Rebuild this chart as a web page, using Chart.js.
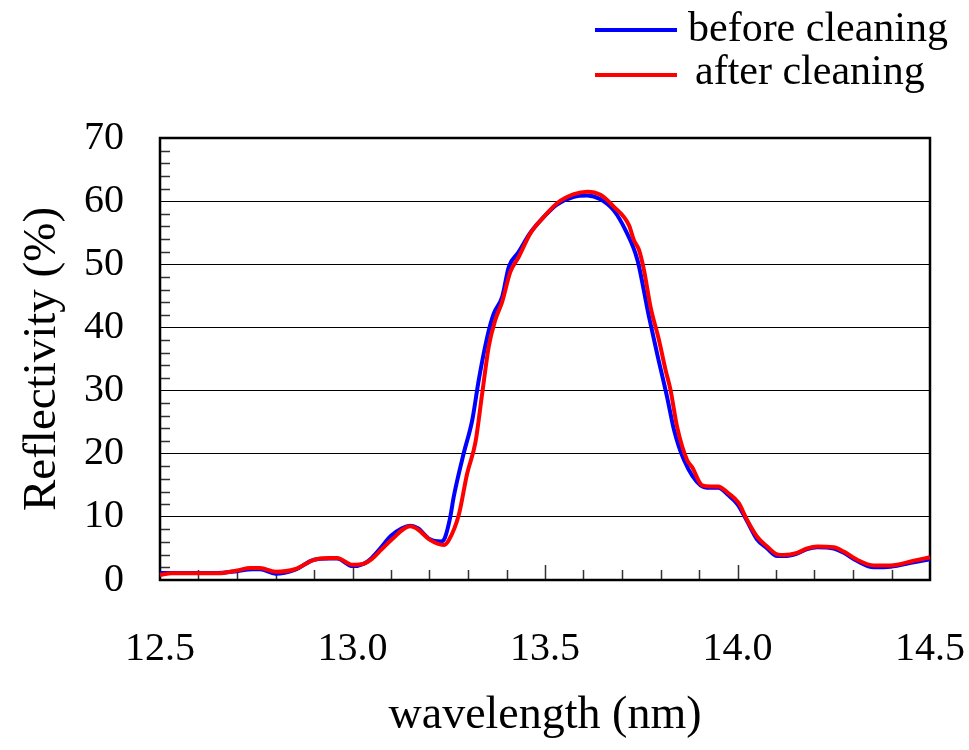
<!DOCTYPE html>
<html>
<head>
<meta charset="utf-8">
<script src="https://cdn.jsdelivr.net/npm/chart.js@4/dist/chart.umd.min.js"></script>
<style>
  html, body { margin: 0; padding: 0; background: #fff; }
</style>
</head>
<body>
<canvas id="refl" width="969" height="750"></canvas>
<script>
// wavelength (nm) / reflectivity (%)
const wavelengthBefore = [12.50, 12.53, 12.65, 12.70, 12.74, 12.76, 12.80, 12.85, 12.90, 12.94, 12.96, 13.00, 13.03, 13.05, 13.075, 13.10, 13.15, 13.17, 13.20, 13.23, 13.24, 13.254, 13.263, 13.289, 13.311, 13.328, 13.35, 13.367, 13.389, 13.406, 13.43, 13.462, 13.497, 13.532, 13.575, 13.61, 13.644, 13.679, 13.709, 13.74, 13.77, 13.791, 13.817, 13.835, 13.861, 13.904, 13.93, 13.95, 13.975, 14.00, 14.025, 14.05, 14.077, 14.103, 14.12, 14.155, 14.181, 14.207, 14.25, 14.276, 14.311, 14.354, 14.397, 14.458, 14.50]
const reflBefore = [1.1, 1.1, 1.1, 1.4, 1.7, 1.7, 1.0, 1.6, 3.2, 3.4, 3.4, 2.2, 2.6, 3.5, 5.2, 7.0, 8.6, 8.2, 6.5, 6.1, 6.7, 10.0, 13.2, 20.1, 25.3, 31.7, 38.5, 42.2, 44.9, 49.6, 51.8, 55.0, 57.5, 59.5, 60.7, 60.9, 60.3, 58.5, 55.4, 50.7, 41.7, 35.9, 29.0, 23.8, 19.0, 15.0, 14.6, 14.6, 13.5, 12.0, 9.3, 6.5, 5.0, 3.8, 3.8, 4.2, 4.9, 5.2, 5.0, 4.3, 3.0, 2.0, 2.1, 2.8, 3.3]

const wavelengthAfter = [12.50, 12.53, 12.65, 12.70, 12.735, 12.76, 12.80, 12.85, 12.90, 12.94, 12.96, 13.00, 13.03, 13.05, 13.075, 13.10, 13.15, 13.17, 13.20, 13.237, 13.25, 13.276, 13.298, 13.319, 13.337, 13.354, 13.371, 13.389, 13.41, 13.432, 13.462, 13.497, 13.532, 13.575, 13.61, 13.644, 13.679, 13.718, 13.731, 13.744, 13.757, 13.774, 13.796, 13.813, 13.826, 13.843, 13.869, 13.882, 13.908, 13.93, 13.95, 13.975, 14.003, 14.025, 14.051, 14.077, 14.103, 14.12, 14.155, 14.181, 14.207, 14.25, 14.276, 14.311, 14.354, 14.397, 14.458, 14.50]
const reflAfter = [0.8, 1.05, 1.05, 1.5, 1.9, 1.9, 1.3, 1.7, 3.2, 3.5, 3.5, 2.4, 2.6, 3.3, 4.8, 6.3, 8.5, 8.0, 6.4, 5.55, 6.3, 10.3, 16.9, 21.7, 29.6, 37.0, 41.2, 44.1, 48.8, 51.2, 54.9, 57.5, 59.7, 61.1, 61.5, 61.0, 59.1, 56.2, 53.8, 52.3, 49.1, 43.3, 38.0, 33.3, 30.1, 24.3, 19.0, 17.9, 15.0, 14.8, 14.8, 13.8, 12.2, 9.5, 6.85, 5.3, 4.05, 3.95, 4.3, 5.0, 5.3, 5.2, 4.5, 3.2, 2.3, 2.3, 3.05, 3.6]

const seriesLabels = ['before cleaning', 'after cleaning']
const xTickValues = [12.5, 13.0, 13.5, 14.0, 14.5]
const xMinorTicks = [12.6, 12.7, 12.8, 12.9, 13.0, 13.1, 13.2, 13.3, 13.4, 13.5, 13.6, 13.7, 13.8, 13.9, 14.0, 14.1, 14.2, 14.3, 14.4]
const yMinorTicks = [2, 4, 6, 8, 12, 14, 16, 18, 22, 24, 26, 28, 32, 34, 36, 38, 42, 44, 46, 48, 52, 54, 56, 58, 62, 64, 66, 68]

const toXY = (xs, ys) => xs.map((x, i) => ({ x: x, y: ys[i] }))

const serif = 'Liberation Serif'

// box round the plot plus the small inward ticks
const framePlugin = {
  id: 'framePlugin',
  beforeDatasetsDraw(chart) {
    const { ctx, chartArea: { left, right, top, bottom }, scales: { x, y } } = chart
    ctx.save()
    ctx.strokeStyle = '#333'
    ctx.lineWidth = 1.5
    ctx.beginPath()
    yMinorTicks.forEach(v => {
      const py = Math.round(y.getPixelForValue(v)) + 0.5
      ctx.moveTo(left, py)
      ctx.lineTo(left + 10, py)
    })
    xMinorTicks.forEach(v => {
      const px = Math.round(x.getPixelForValue(v)) + 0.5
      const len = Math.abs(v * 2 - Math.round(v * 2)) < 0.01 ? 15 : 10
      ctx.moveTo(px, bottom)
      ctx.lineTo(px, bottom - len)
    })
    ctx.stroke()
    ctx.strokeStyle = '#000'
    ctx.lineWidth = 2.5
    ctx.strokeRect(left, top, right - left, bottom - top)
    ctx.restore()
  }
}

// legend top right: line sample then label, one per row
const legendPlugin = {
  id: 'legendPlugin',
  afterDraw(chart) {
    const { ctx } = chart
    const rows = [
      { lineY: 30, textX: 688, textY: 41 },
      { lineY: 75, textX: 695, textY: 84 }
    ]
    ctx.save()
    chart.data.datasets.forEach((ds, i) => {
      const r = rows[i]
      ctx.strokeStyle = ds.borderColor
      ctx.lineWidth = 4
      ctx.beginPath()
      ctx.moveTo(595, r.lineY)
      ctx.lineTo(677, r.lineY)
      ctx.stroke()
      ctx.fillStyle = '#000'
      ctx.font = '42px "' + serif + '"'
      ctx.textAlign = 'left'
      ctx.textBaseline = 'alphabetic'
      ctx.fillText(ds.label, r.textX, r.textY)
    })
    ctx.restore()
  }
}

new Chart(document.getElementById('refl').getContext('2d'), {
  type: 'line',
  data: {
    datasets: [
      {
        label: seriesLabels[0],
        data: toXY(wavelengthBefore, reflBefore),
        borderColor: '#0000ff',
        borderWidth: 4,
        pointRadius: 0,
        tension: 0.3,
        cubicInterpolationMode: 'monotone',
        clip: false,
        order: 2
      },
      {
        label: seriesLabels[1],
        data: toXY(wavelengthAfter, reflAfter),
        borderColor: '#ff0000',
        borderWidth: 4,
        pointRadius: 0,
        tension: 0.3,
        cubicInterpolationMode: 'monotone',
        clip: false,
        order: 1
      }
    ]
  },
  options: {
    responsive: false,
    animation: false,
    devicePixelRatio: 1,
    layout: { padding: { top: 138, right: 39, left: 0, bottom: 0 } },
    plugins: {
      legend: { display: false },
      tooltip: { enabled: false }
    },
    scales: {
      x: {
        type: 'linear',
        min: 12.5,
        max: 14.5,
        afterFit(scale) {
          scale.height = 170
          scale.paddingLeft = 0
          scale.paddingRight = 0
        },
        afterBuildTicks(scale) { scale.ticks = xTickValues.map(v => ({ value: v })) },
        grid: { display: false, drawTicks: false },
        border: { display: false },
        ticks: {
          padding: 45,
          color: '#000',
          maxRotation: 0,
          font: { family: serif, size: 40 },
          callback: v => Number(v).toFixed(1)
        },
        title: {
          display: true,
          text: 'wavelength (nm)',
          color: '#000',
          font: { family: serif, size: 46 },
          padding: { top: 0, bottom: 6 }
        }
      },
      y: {
        min: 0,
        max: 70,
        afterFit(scale) {
          scale.width = 160
          scale.paddingTop = 0
          scale.paddingBottom = 0
        },
        grid: { color: '#000', lineWidth: 1, drawTicks: false },
        border: { display: false },
        ticks: {
          stepSize: 10,
          padding: 36,
          color: '#000',
          font: { family: serif, size: 40 }
        },
        title: {
          display: true,
          text: 'Reflectivity (%)',
          color: '#000',
          font: { family: serif, size: 47 },
          padding: { top: 14, bottom: 0 }
        }
      }
    }
  },
  plugins: [framePlugin, legendPlugin]
})
</script>
</body>
</html>
